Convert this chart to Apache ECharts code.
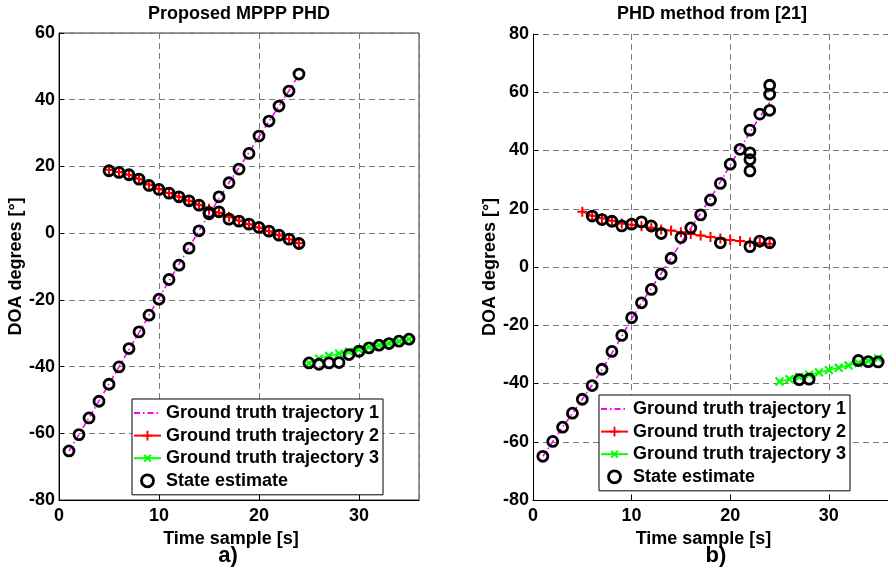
<!DOCTYPE html>
<html><head><meta charset="utf-8">
<script src="https://cdn.jsdelivr.net/npm/echarts@6/dist/echarts.min.js"></script>
<style>html,body{margin:0;padding:0;background:#fff}#c{width:888px;height:580px}</style>
</head><body><div id="c"></div>
<script>
// ---- data ----
const time1 = [1,2,3,4,5,6,7,8,9,10,11,12,13,14,15,16,17,18,19,20,21,22,23,24];
const time2 = [5,6,7,8,9,10,11,12,13,14,15,16,17,18,19,20,21,22,23,24];
const time3 = [25,26,27,28,29,30,31,32,33,34,35];
const xTicks = [0,10,20,30];

// a) Proposed MPPP PHD
const leftTruth1 = [-65.3,-60.3,-55.3,-50.3,-45.2,-40.1,-34.9,-29.8,-24.6,-19.4,-14.3,-9.3,-4.3,0.7,5.6,10.4,15.1,19.6,24.2,28.9,33.5,38.1,42.7,47.5];
const leftTruth2 = [19,18.3,17.5,16.3,14.6,13.2,12.0,10.9,9.7,8.5,7.3,6.1,4.9,3.8,2.7,1.7,0.6,-0.6,-1.8,-3.0];
const leftTruth3 = [-39,-37.6,-36.8,-36.1,-35.5,-34.9,-34.2,-33.6,-33.0,-32.4,-31.8];
const leftEst1 = [-65.3,-60.4,-55.4,-50.4,-45.3,-40.1,-34.6,-29.6,-24.6,-19.8,-13.9,-9.6,-4.5,0.7,5.8,10.9,15.1,19.2,23.9,29.1,33.6,38.1,42.6,47.7];
const leftEst2 = [18.7,18.2,17.5,16.2,14.3,13.1,12.0,10.9,9.7,8.4,6.2,6.4,4.2,3.6,2.7,1.7,0.6,-0.6,-1.8,-3.1];
const leftEst3 = [-38.9,-39.3,-38.9,-38.8,-36.4,-35.4,-34.4,-33.6,-33.1,-32.4,-31.8];

// b) PHD method from [21]
const rightTruth1 = [-65,-60,-55,-50.3,-45.4,-40.5,-35.2,-29.6,-23.8,-17.8,-12.3,-7.3,-2.2,3.0,8.2,13.4,18.5,23.6,29.2,35.0,40.6,46.3,51.5,56.5];
const rightTruth2 = [19,17.6,16.7,15.9,14.9,14.5,14.0,13.5,12.9,12.5,11.9,11.3,10.8,10.3,9.8,9.3,8.9,8.5,8.2,8.0];
const rightTruth3 = [-39.3,-38.5,-37.7,-37.0,-36.2,-35.4,-34.6,-33.8,-33.0,-32.2,-31.4];
const rightEstTime  = [1,2,3,4,5,6,7,8,9,10,11,12,13,14,15,16,17,18,19,20,21,22,22,22,22,23,24,24,24,
                       6,7,8,9,10,11,12,13,19,22,23,24,
                       27,28,33,34,35];
const rightEstValue = [-65,-59.9,-55,-50.2,-45.4,-40.7,-35.1,-29,-23.5,-17.4,-12.3,-7.7,-2.4,3.0,10.1,13.4,17.9,23,28.7,35.3,40.4,47,39.2,36.9,33.0,52.5,53.8,59.3,62.4,
                       17.5,16.3,15.7,14.1,14.7,15.5,14.1,11.5,8.3,7.0,8.9,8.3,
                       -38.7,-38.5,-32.1,-32.5,-32.6];

const names = ['Ground truth trajectory 1','Ground truth trajectory 2','Ground truth trajectory 3','State estimate'];

// ---- chart ----
const FONT = '"Liberation Sans", Arial, sans-serif';
const pair = (ts, vs) => ts.map((t, i) => [t, vs[i]]);
const PLUS = 'path://M4,0H6V4H10V6H6V10H4V6H0V4H4Z';

function truthSeries(idx, data) {
  return [
    {name: names[0], type:'line', xAxisIndex:idx, yAxisIndex:idx, data: data[0], symbol:'none',
     lineStyle:{color:'#ff00ff', width:1.6, type:[6,3,1.5,3]}, itemStyle:{color:'#ff00ff'}, z:2, animation:false},
    {name: names[1], type:'line', xAxisIndex:idx, yAxisIndex:idx, data: data[1], symbol:PLUS, symbolSize:10, showAllSymbol:true,
     lineStyle:{color:'#ff0000', width:1.5}, itemStyle:{color:'#ff0000'}, z:2, animation:false},
    {name: names[2], type:'line', xAxisIndex:idx, yAxisIndex:idx, data: data[2], symbol:PLUS, symbolSize:11, symbolRotate:45, showAllSymbol:true,
     lineStyle:{color:'#00ff00', width:1.5}, itemStyle:{color:'#00ff00'}, z:2, animation:false},
  ];
}
function estSeries(idx, data) {
  return {name: names[3], type:'scatter', xAxisIndex:idx, yAxisIndex:idx, data, symbol:'circle', symbolSize:10,
    itemStyle:{color:'rgba(0,0,0,0)', borderColor:'#000', borderWidth:2.8, opacity:1}, z:5, animation:false};
}

const axisCommon = {
  axisLine:{show:true, onZero:false, lineStyle:{color:'#000', width:1}},
  axisTick:{show:true, inside:true, length:5, lineStyle:{color:'#000'}},
  splitLine:{show:true, lineStyle:{color:'#7a7a7a', width:1, type:[6,4]}},
  axisLabel:{color:'#000', fontWeight:'bold', fontSize:18, fontFamily:FONT, showMaxLabel:false},
  nameTextStyle:{color:'#000', fontWeight:'bold', fontSize:18, fontFamily:FONT},
};
function xAx(idx, pad) {
  return Object.assign({}, axisCommon, {type:'value', gridIndex:idx, min:0, max:36, interval:10,
    name:'Time sample [s]', nameLocation:'middle', nameGap:22,
    nameTextStyle:Object.assign({}, axisCommon.nameTextStyle, {padding:pad}),
    axisLabel:Object.assign({}, axisCommon.axisLabel, {margin:7, showMaxLabel:false})});
}
function yAx(idx, min, max) {
  return Object.assign({}, axisCommon, {type:'value', gridIndex:idx, min, max, interval:20,
    name:'DOA degrees [°]', nameLocation:'middle', nameGap:33,
    axisLabel:Object.assign({}, axisCommon.axisLabel, {margin:4, showMaxLabel:true})});
}
const legendData = [
  {name:names[0], itemStyle:{opacity:0}},
  {name:names[1]},
  {name:names[2]},
  {name:names[3], itemStyle:{color:'rgba(0,0,0,0)', borderColor:'#000', borderWidth:2.8}}
];
const legendCommon = {
  orient:'vertical', itemWidth:27, itemHeight:12, itemGap:2.6, padding:[4,4,4,1],
  backgroundColor:'#fff', borderColor:'#000', borderWidth:1, borderRadius:0,
  textStyle:{color:'#000', fontWeight:'bold', fontSize:18, fontFamily:FONT, lineHeight:20},
  data: legendData, selectedMode:false
};

const chart = echarts.init(document.getElementById('c'), null, {renderer:'canvas'});
chart.setOption({
  animation:false,
  backgroundColor:'#fff',
  grid:[
    {left:59, top:33, width:360, height:467, show:true, borderColor:'#333', borderWidth:1, backgroundColor:'transparent'},
    {left:533, top:34, width:360, height:466, show:false}
  ],
  xAxis:[xAx(0,[0,16,0,0]), xAx(1,[0,14,0,0])],
  yAxis:[yAx(0,-80,60), yAx(1,-80,80)],
  legend:[
    Object.assign({}, legendCommon, {left:132, top:399}),
    Object.assign({}, legendCommon, {left:599, top:395})
  ],
  graphic:[
    {type:'text', x:239, y:14, style:{text:'Proposed MPPP PHD', font:'bold 18px '+FONT, align:'center', verticalAlign:'middle', textAlign:'center', textVerticalAlign:'middle', fill:'#000'}},
    {type:'text', x:712, y:14, style:{text:'PHD method from [21]', font:'bold 18px '+FONT, align:'center', verticalAlign:'middle', textAlign:'center', textVerticalAlign:'middle', fill:'#000'}},
    {type:'text', x:228, y:556, style:{text:'a)', font:'bold 22px '+FONT, align:'center', verticalAlign:'middle', textAlign:'center', textVerticalAlign:'middle', fill:'#000'}},
    {type:'text', x:716, y:556, style:{text:'b)', font:'bold 22px '+FONT, align:'center', verticalAlign:'middle', textAlign:'center', textVerticalAlign:'middle', fill:'#000'}}
  ],
  series:[].concat(
    truthSeries(0, [pair(time1,leftTruth1), pair(time2,leftTruth2), pair(time3,leftTruth3)]),
    [estSeries(0, pair(time1,leftEst1).concat(pair(time2,leftEst2), pair(time3,leftEst3)))],
    truthSeries(1, [pair(time1,rightTruth1), pair(time2,rightTruth2), pair(time3,rightTruth3)]),
    [estSeries(1, pair(rightEstTime,rightEstValue))]
  )
});
</script></body></html>
